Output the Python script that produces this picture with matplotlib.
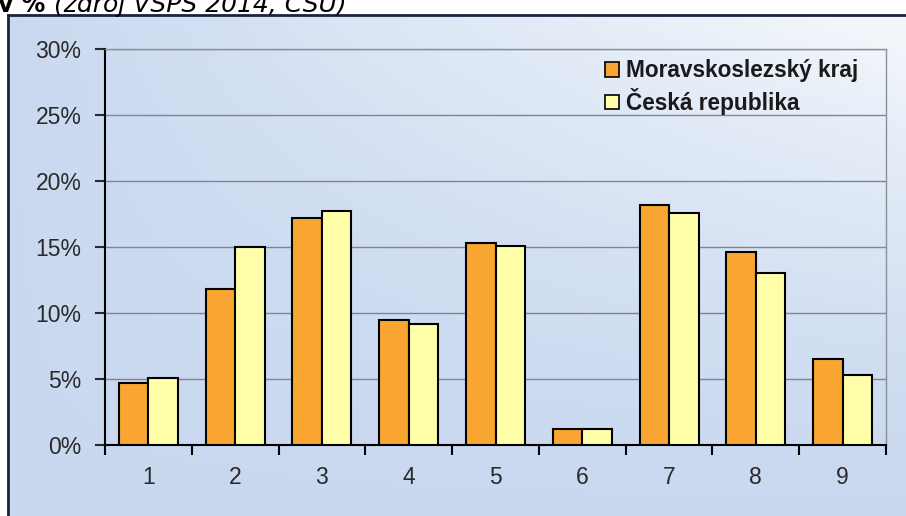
import numpy as np
import matplotlib as mpl
mpl.use('Agg')
import matplotlib.pyplot as plt
from matplotlib.patches import Patch

categories = ['1', '2', '3', '4', '5', '6', '7', '8', '9']
msk = [4.7, 11.8, 17.2, 9.5, 15.3, 1.2, 18.2, 14.6, 6.5]
cr = [5.1, 15.0, 17.7, 9.2, 15.1, 1.2, 17.6, 13.0, 5.3]
labels = ['Moravskoslezský kraj', 'Česká republika']
yticks = [0, 5, 10, 15, 20, 25, 30]

W, H = 906, 516
fig = plt.figure(figsize=(W / 100, H / 100), dpi=100)
fig.patch.set_facecolor('white')

# chart area background (light blue, whiter towards the top right)
x0, ytop = 8 / W, 1 - 15 / H
bg = fig.add_axes([x0, 0, 1 - x0, ytop], zorder=-10)
gx, gy = np.meshgrid(np.linspace(0, 1, 300), np.linspace(0, 1, 200))
t = np.clip(1.1 * gx * (1 - gy) ** 1.5, 0, 1)
c0 = np.array([0.79, 0.85, 0.94])
c1 = np.array([0.95, 0.965, 0.985])
img = c0[None, None, :] * (1 - t[..., None]) + c1[None, None, :] * t[..., None]
bg.imshow(img, origin='upper', aspect='auto', extent=[0, 1, 0, 1])
bg.set_axis_off()
# dark border of chart area (left and top)
fig.add_artist(plt.Line2D([x0, x0], [0, ytop], color='#1a2440', lw=2))
fig.add_artist(plt.Line2D([x0, 1], [ytop, ytop], color='#1a2440', lw=2))

# heading above the chart (cut by the top edge as in the source)
fig.text(-2 / W, 1 - 12 / H, 'v %', fontsize=17, fontweight='bold',
         family='DejaVu Sans', va='baseline', ha='left')
fig.text(54 / W, 1 - 12 / H, '(zdroj VŠPS 2014, ČSÚ)', fontsize=18,
         style='italic', family='DejaVu Sans', va='baseline', ha='left')

ax = fig.add_axes([105 / W, 1 - 445 / H, (886 - 105) / W, (445 - 49) / H])
ax.patch.set_alpha(0)

x = np.arange(len(categories))
bw = 0.34
ax.bar(x - bw / 2, msk, bw, color='#F9A532', edgecolor='black', lw=1.5, zorder=3)
ax.bar(x + bw / 2, cr, bw, color='#FFFFAA', edgecolor='black', lw=1.5, zorder=3)

ax.set_xlim(-0.5, len(categories) - 0.5)
ax.set_ylim(0, 30)
ax.set_yticks(yticks)
ax.set_yticklabels([f'{v}%' for v in yticks])
ax.set_xticks(x)
ax.set_xticklabels(categories)
ax.set_xticks(np.arange(-0.5, len(categories)), minor=True)
ax.grid(axis='y', color='#7f8690', lw=1, zorder=1)

ax.tick_params(axis='x', which='major', length=0, pad=15, labelsize=16.5, colors='#2a2a2a')
ax.tick_params(axis='x', which='minor', length=7, width=1.5, direction='out', color='black')
ax.tick_params(axis='y', length=7, width=1.5, direction='out', pad=10, labelsize=16.5,
               colors='#2a2a2a')
for lab in ax.get_xticklabels() + ax.get_yticklabels():
    lab.set_family('Liberation Sans')

for s in ['left', 'bottom']:
    ax.spines[s].set_color('black')
    ax.spines[s].set_linewidth(1.5)
for s in ['top', 'right']:
    ax.spines[s].set_color('#8a9098')
    ax.spines[s].set_linewidth(1)

handles = [Patch(facecolor='#F9A532', edgecolor='black', lw=1.2),
           Patch(facecolor='#FFFFAA', edgecolor='black', lw=1.2)]
leg = ax.legend(handles, labels, loc='upper right', bbox_to_anchor=(0.99, 1.025),
                frameon=False, handlelength=0.6, handleheight=0.6,
                handletextpad=0.3, labelspacing=0.25, borderpad=0.4,
                prop={'family': 'Liberation Sans', 'size': 16.3, 'weight': 'bold'})
for txt in leg.get_texts():
    txt.set_color('#1a1a1a')

fig.savefig('out.png', dpi=100)
